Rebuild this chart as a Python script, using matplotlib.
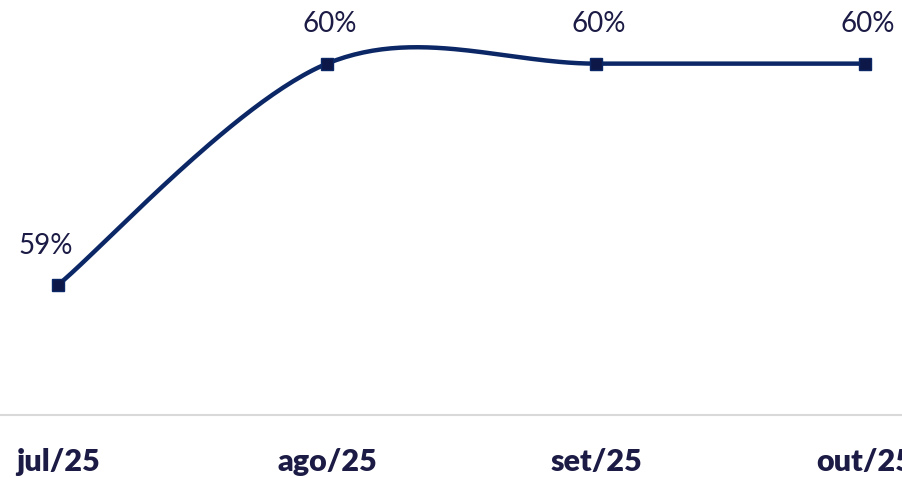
import matplotlib
matplotlib.use("Agg")
import matplotlib.pyplot as plt
import numpy as np

months = ["jul/25", "ago/25", "set/25", "out/25"]
values = [59.4, 60.2, 60.2, 60.2]
labels = ["59%", "60%", "60%", "60%"]

LINE = "#0b2766"
MARK = "#0d1748"
TEXT = "#1b1b45"


def smooth_curve(x, y, n=60):
    """Excel-style smoothed line: cubic Bezier segments with Catmull-Rom tangents."""
    pts = np.column_stack([x, y]).astype(float)
    ext = np.vstack([pts[0], pts, pts[-1]])
    out = []
    t = np.linspace(0, 1, n)[:, None]
    for i in range(len(pts) - 1):
        p0, p1, p2, p3 = ext[i], ext[i + 1], ext[i + 2], ext[i + 3]
        c1 = p1 + (p2 - p0) / 6
        c2 = p2 - (p3 - p1) / 6
        seg = ((1 - t) ** 3) * p1 + 3 * ((1 - t) ** 2) * t * c1 + 3 * (1 - t) * t ** 2 * c2 + t ** 3 * p2
        out.append(seg if i == 0 else seg[1:])
    seg = np.vstack(out)
    return seg[:, 0], seg[:, 1]


W, H = 902, 478
fig = plt.figure(figsize=(W / 100, H / 100), dpi=100)
# category axis extends half a slot beyond the first/last point
x0_px, step_px = 58, 269
left = (x0_px - step_px / 2) / W
width = step_px * len(months) / W
bottom = (H - 415) / H
ax = fig.add_axes([left, bottom, width, 1 - bottom])

x = np.arange(len(months))
sx, sy = smooth_curve(x, values)
ax.plot(sx, sy, color=LINE, lw=3.2, solid_capstyle="round", zorder=2)
ax.plot(x, values, ls="none", marker="s", ms=8, mfc=MARK, mec=LINE, mew=1, zorder=3)

ax.set_xlim(-0.5, len(months) - 0.5)
ax.set_ylim(58.93, 60.43)

offsets = [(-9, 19), (2, 19), (2, 19), (2, 19)]
for xi, v, lab, off in zip(x, values, labels, offsets):
    ax.annotate(lab, (xi, v), xytext=off, textcoords="offset points",
                ha="center", va="bottom", fontsize=20, color=TEXT,
                family=["Lato", "DejaVu Sans"], fontweight="normal")

for s in ["top", "right", "left"]:
    ax.spines[s].set_visible(False)
ax.spines["bottom"].set_color("#d9d9d9")
ax.spines["bottom"].set_linewidth(1.5)
ax.set_yticks([])
ax.set_xticks(x)
ax.set_xticklabels(months, fontsize=22, fontweight="heavy", color=TEXT,
                   family=["Lato", "DejaVu Sans"])
ax.tick_params(axis="x", length=0, pad=24)

fig.savefig("out.png", dpi=100)
